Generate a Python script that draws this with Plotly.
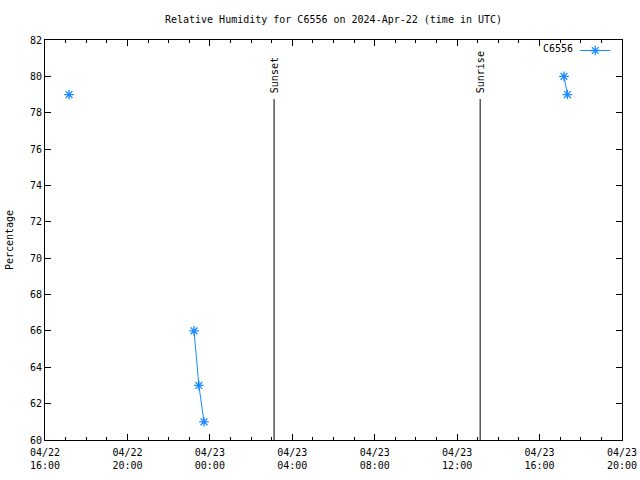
import plotly.graph_objects as go

times = ["2024-04-22 17:10", None,
         "2024-04-22 23:14", "2024-04-22 23:28", "2024-04-22 23:43", None,
         "2024-04-23 17:11", "2024-04-23 17:21"]
humidity = [79, None, 66, 63, 61, None, 80, 79]

sun_times = ["2024-04-23 03:07", "2024-04-23 13:07"]
sun_labels = ["Sunset", "Sunrise"]
sun_line_top = 78.75

tick_vals = ["2024-04-22 16:00", "2024-04-22 20:00", "2024-04-23 00:00",
             "2024-04-23 04:00", "2024-04-23 08:00", "2024-04-23 12:00",
             "2024-04-23 16:00", "2024-04-23 20:00"]
tick_text = ["04/22<br>16:00", "04/22<br>20:00", "04/23<br>00:00",
             "04/23<br>04:00", "04/23<br>08:00", "04/23<br>12:00",
             "04/23<br>16:00", "04/23<br>20:00"]

FONT = "DejaVu Sans Mono"
BLUE = "#1a8cff"

fig = go.Figure()
fig.add_trace(go.Scatter(
    x=times, y=humidity, mode="lines+markers", name="",
    connectgaps=False,
    line=dict(color=BLUE, width=1),
    marker=dict(symbol="asterisk-open", size=8, color=BLUE,
                line=dict(color=BLUE, width=1.3)),
))

for t, lab in zip(sun_times, sun_labels):
    fig.add_shape(type="line", x0=t, x1=t, y0=60, y1=sun_line_top,
                  xref="x", yref="y", line=dict(color="black", width=1))
    fig.add_annotation(x=t, y=sun_line_top, xref="x", yref="y", text=lab,
                       textangle=-90, showarrow=False, xanchor="center",
                       yanchor="bottom", yshift=4,
                       font=dict(family=FONT, size=10, color="black"))

fig.add_annotation(x=(575 - 45) / (622 - 45), y=(440 - 49) / 400,
                   xref="paper", yref="paper", text="C6556",
                   showarrow=False, xanchor="right", yanchor="middle",
                   font=dict(family=FONT, size=10, color="black"))

fig.update_layout(
    width=640, height=480,
    margin=dict(l=45, r=18, t=40, b=40, autoexpand=False),
    paper_bgcolor="white", plot_bgcolor="white",
    font=dict(family=FONT, size=10, color="black"),
    title=dict(text="Relative Humidity for C6556 on 2024-Apr-22 (time in UTC)",
               x=0.5, xanchor="center", y=1 - 19 / 480, yanchor="middle",
               xref="paper", yref="container",
               font=dict(family=FONT, size=10), automargin=False),
    showlegend=True,
    legend=dict(x=0.997, y=1.01, xanchor="right", yanchor="top",
                bgcolor="rgba(0,0,0,0)",
                font=dict(family=FONT, size=10),
                itemwidth=30),
)

fig.update_xaxes(
    type="date", range=["2024-04-22 16:00", "2024-04-23 20:00"],
    tickmode="array", tickvals=tick_vals, ticktext=tick_text,
    ticks="inside", ticklen=6, tickcolor="black",
    showline=True, linecolor="black", linewidth=1, mirror="allticks",
    showgrid=False, zeroline=False, automargin=False,
    ticklabelstandoff=3,
    minor=dict(dtick=3600000, ticks="inside", ticklen=3, tickcolor="black",
               showgrid=False),
    tickfont=dict(family=FONT, size=10),
)
fig.update_yaxes(
    range=[60, 82], dtick=2, tick0=60,
    ticks="inside", ticklen=6, tickcolor="black",
    showline=True, linecolor="black", linewidth=1, mirror="allticks",
    showgrid=False, zeroline=False, automargin=False,
    title=dict(text="Percentage", font=dict(family=FONT, size=10), standoff=14),
    tickfont=dict(family=FONT, size=10),
)

fig.write_html("out.html", config={"displayModeBar": False},
               post_script="document.body.style.margin='0';document.body.style.padding='0';")
